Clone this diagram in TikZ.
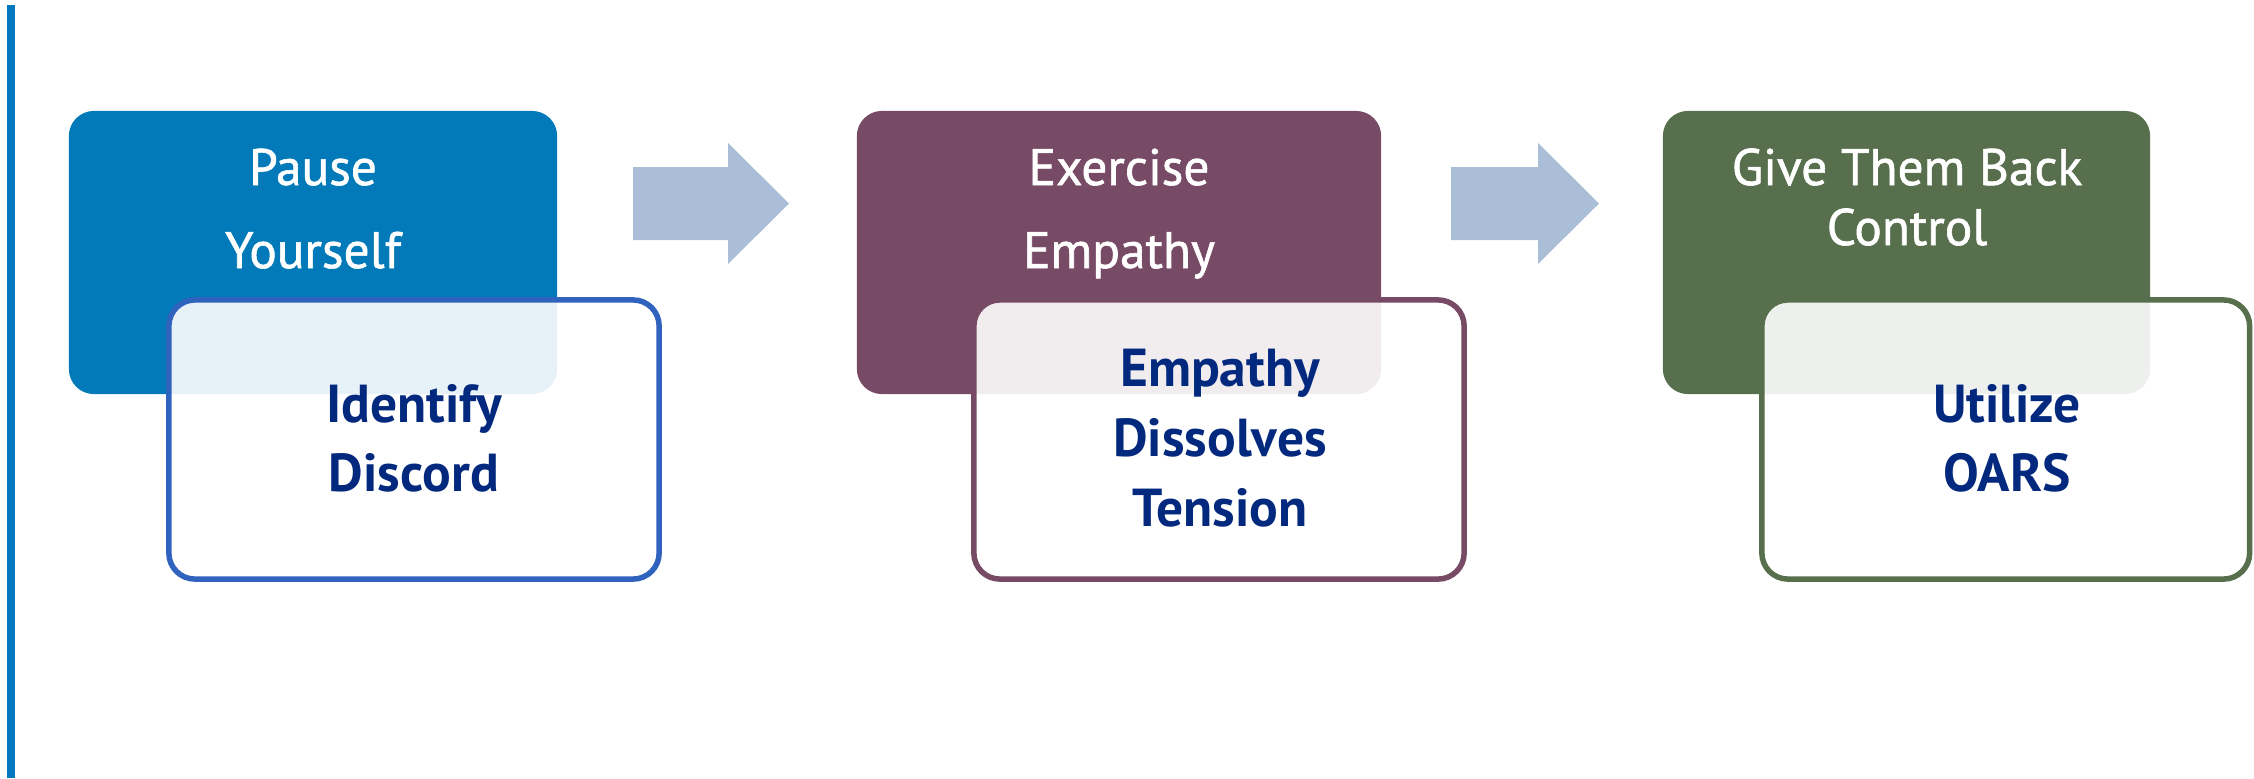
\documentclass[tikz,border=0pt]{standalone}
\usepackage{fontspec}
\setmainfont{PT Sans}
\newfontfamily\headfont{PT Sans}[FakeBold=1.2]
\definecolor{vlinec}{HTML}{0279BE}
\definecolor{bluec}{HTML}{0279B8}
\definecolor{purplec}{HTML}{774B65}
\definecolor{greenc}{HTML}{576F4D}
\definecolor{arrowc}{HTML}{AABED7}
\definecolor{blueborder}{HTML}{3063BE}
\definecolor{navyc}{HTML}{03297E}
\begin{document}
\begin{tikzpicture}[x=0.01cm,y=-0.01cm,
  card/.style={rectangle, rounded corners=0.25cm, inner sep=0pt, outer sep=0pt,
    minimum height=2.83cm},
  subcard/.style={rectangle, rounded corners=0.26cm, inner sep=0pt, outer sep=0pt,
    fill=white, fill opacity=0.9, line width=0.055cm,
    minimum width=4.9cm, minimum height=2.79cm},
  headtxt/.style={anchor=base, text=white, inner sep=0pt,
    font=\headfont\fontsize{14.6}{17}\selectfont},
  subtxt/.style={anchor=base, text=navyc, inner sep=0pt,
    font=\fontsize{15.2}{18}\selectfont\bfseries},
  flowarrow/.style={fill=arrowc}
]
\useasboundingbox (0,0) rectangle (2254,778);

% left vertical line
\coordinate (vtop) at (11,5);
\coordinate (vbot) at (11,778);
\draw[vlinec, line width=0.08cm] (vtop) -- (vbot);

% cards
\node[card, fill=bluec, minimum width=4.88cm] (r1) at (313,252.5) {};
\node[subcard, draw=blueborder] (b1) at (414,439.5) {};

\node[card, fill=purplec, minimum width=5.24cm] (r2) at (1119,252.5) {};
\node[subcard, draw=purplec] (b2) at (1219,439.5) {};

\node[card, fill=greenc, minimum width=4.87cm] (r3) at (1906.5,252.5) {};
\node[subcard, draw=greenc, minimum width=4.875cm] (b3) at (2005.75,439.5) {};

% arrows
\fill[flowarrow] (633,167) -- (728,167) -- (728,143) -- (789,203.5) -- (728,264) -- (728,240) -- (633,240) -- cycle;
\fill[flowarrow] (1451,167) -- (1538,167) -- (1538,143) -- (1599,203.5) -- (1538,264) -- (1538,240) -- (1451,240) -- cycle;

% heading texts
\node[headtxt] (t1a) at (313,185) {Pause};
\node[headtxt] (t1b) at (313,268) {Yourself};
\node[headtxt] (t2a) at (1119,185) {Exercise};
\node[headtxt] (t2b) at (1119,268) {Empathy};
\node[headtxt] (t3a) at (1907,185) {Give Them Back};
\node[headtxt] (t3b) at (1907,245) {Control};

% sub texts
\node[subtxt] (s1a) at (414,422) {Identify};
\node[subtxt] (s1b) at (414,491) {Discord};
\node[subtxt] (s2a) at (1220,386) {Empathy};
\node[subtxt] (s2b) at (1220,456) {Dissolves};
\node[subtxt] (s2c) at (1220,526) {Tension};
\node[subtxt] (s3a) at (2007,422) {Utilize};
\node[subtxt] (s3b) at (2007,491) {OARS};
\end{tikzpicture}
\end{document}
